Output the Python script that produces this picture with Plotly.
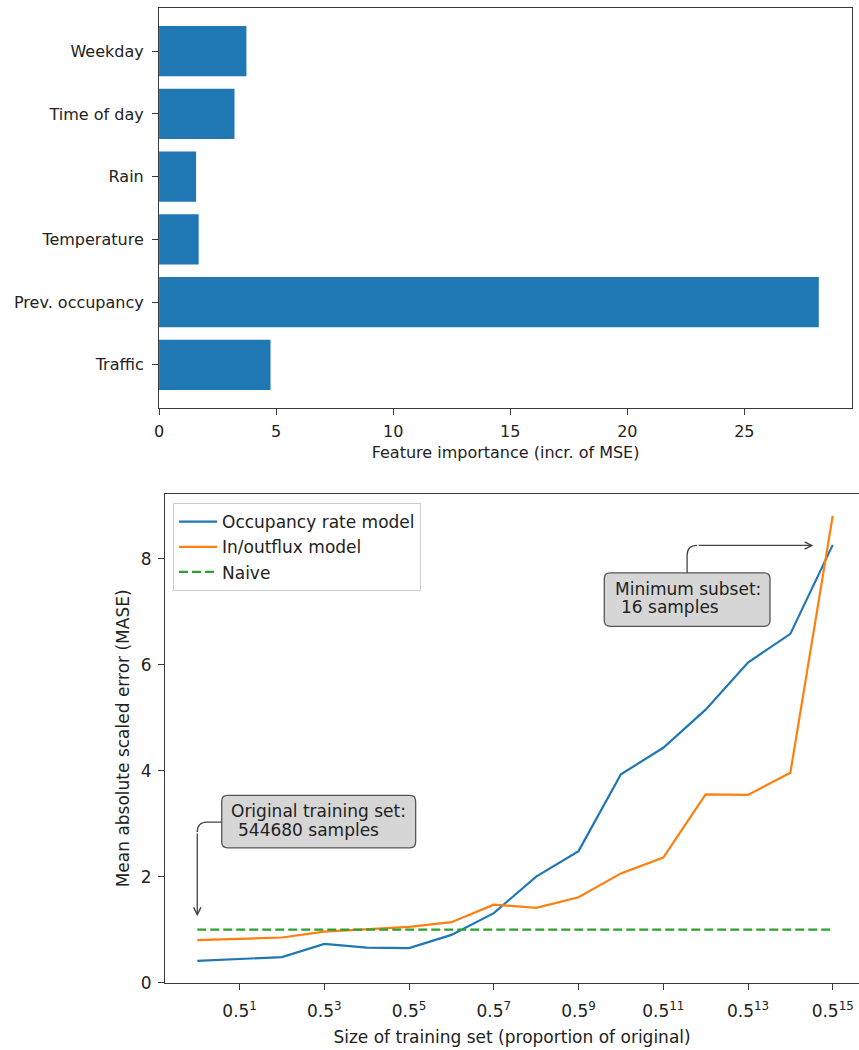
import plotly.graph_objects as go

# ---------------- data ----------------
features = ["Traffic", "Prev. occupancy", "Temperature", "Rain", "Time of day", "Weekday"]
importance = [4.76, 28.18, 1.69, 1.58, 3.22, 3.73]
importance_ticks = [0, 5, 10, 15, 20, 25]

steps = [0, 1, 2, 3, 4, 5, 6, 7, 8, 9, 10, 11, 12, 13, 14, 15]
occupancy_model = [0.41, 0.45, 0.48, 0.73, 0.66, 0.65, 0.90, 1.31, 2.00, 2.48, 3.93, 4.43, 5.15, 6.04, 6.58, 8.26]
flux_model = [0.80, 0.82, 0.85, 0.96, 1.01, 1.05, 1.14, 1.47, 1.41, 1.61, 2.06, 2.36, 3.55, 3.54, 3.96, 8.81]
naive = [1.0, 1.0, 1.0, 1.0, 1.0, 1.0, 1.0, 1.0, 1.0, 1.0, 1.0, 1.0, 1.0, 1.0, 1.0, 1.0]
mase_ticks = [0, 2, 4, 6, 8]
size_tickvals = [1, 3, 5, 7, 9, 11, 13, 15]
size_ticktext = ["0.5<sup>%d</sup>" % n for n in size_tickvals]

W, H = 859, 1050
FONT = "DejaVu Sans"
TXT = "#222222"
SPINE = "#3a3a3a"

fig = go.Figure()

fig.add_trace(go.Bar(
    x=importance, y=features, orientation="h", width=0.8,
    marker=dict(color="#1f77b4", line=dict(width=0)),
    xaxis="x", yaxis="y", showlegend=False,
))

fig.add_trace(go.Scatter(x=steps, y=occupancy_model, mode="lines", name="Occupancy rate model",
                         line=dict(color="#1f77b4", width=2.2), xaxis="x2", yaxis="y2"))
fig.add_trace(go.Scatter(x=steps, y=flux_model, mode="lines", name="In/outflux model",
                         line=dict(color="#ff7f0e", width=2.2), xaxis="x2", yaxis="y2"))
fig.add_trace(go.Scatter(x=steps, y=naive, mode="lines", name="Naive",
                         line=dict(color="#2ca02c", width=2.2, dash="9px,4px"), xaxis="x2", yaxis="y2"))

axis_common = dict(showgrid=False, zeroline=False, showline=True, linecolor=SPINE, linewidth=1.3,
                   ticks="outside", ticklen=6, tickwidth=1.2, tickcolor=SPINE)

fig.update_layout(
    width=W, height=H,
    margin=dict(l=0, r=0, t=0, b=0),
    paper_bgcolor="white", plot_bgcolor="white",
    font=dict(family=FONT, color=TXT, size=16),
    xaxis=dict(domain=[155 / W, 852 / W], range=[0, 29.6], anchor="y", mirror=True,
               tickvals=importance_ticks, tickfont=dict(size=16), ticklabelstandoff=3,
               title=dict(text="Feature importance (incr. of MSE)", font=dict(size=16), standoff=6),
               **axis_common),
    yaxis=dict(domain=[1 - 412 / H, 1 - 8 / H], range=[-0.69, 5.69], anchor="x", mirror=True,
               type="category", categoryorder="array", categoryarray=features,
               tickfont=dict(size=16), ticklabelstandoff=5, **axis_common),
    xaxis2=dict(domain=[161 / W, 1.0], range=[-0.76, 15.62], anchor="y2", mirror=True,
                tickvals=size_tickvals, ticktext=size_ticktext, tickfont=dict(size=17),
                ticklabelstandoff=7,
                title=dict(text="Size of training set (proportion of original)", font=dict(size=17), standoff=10),
                **axis_common),
    yaxis2=dict(domain=[1 - 992 / H, 1 - 499 / H], range=[0, 9.215], anchor="x2",
                tickvals=mase_ticks, tickfont=dict(size=17), ticklabelstandoff=3,
                title=dict(text="Mean absolute scaled error (MASE)", font=dict(size=17), standoff=6),
                **axis_common),
    legend=dict(x=169 / W, y=1 - 508 / H, xanchor="left", yanchor="top",
                bgcolor="rgba(255,255,255,0.8)", bordercolor="#cccccc", borderwidth=1,
                font=dict(size=17, color=TXT), tracegroupgap=0, itemwidth=38),
)


def rounded_box(x0, x1, y0, y1, rx, ry):
    return (f"M {x0 + rx},{y0} L {x1 - rx},{y0} Q {x1},{y0} {x1},{y0 + ry} "
            f"L {x1},{y1 - ry} Q {x1},{y1} {x1 - rx},{y1} "
            f"L {x0 + rx},{y1} Q {x0},{y1} {x0},{y1 - ry} "
            f"L {x0},{y0 + ry} Q {x0},{y0} {x0 + rx},{y0} Z")


RX, RY = 0.14, 0.11
# text boxes
fig.add_shape(type="path", xref="x2", yref="y2", layer="above",
              path=rounded_box(0.577, 5.155, 2.542, 3.533, RX, RY),
              fillcolor="#d6d6d6", line=dict(color="#555555", width=1.3))
fig.add_shape(type="path", xref="x2", yref="y2", layer="above",
              path=rounded_box(9.608, 13.519, 6.723, 7.733, RX, RY),
              fillcolor="#d6d6d6", line=dict(color="#555555", width=1.3))

# curved connectors
fig.add_shape(type="path", xref="x2", yref="y2", layer="above",
              path="M 0.577,3.028 L 0.235,3.028 Q 0,3.028 0,2.841",
              line=dict(color="#444444", width=1.3))
fig.add_shape(type="path", xref="x2", yref="y2", layer="above",
              path="M 11.563,7.733 L 11.563,8.062 Q 11.563,8.249 11.798,8.249",
              line=dict(color="#444444", width=1.3))

# arrow heads
fig.add_annotation(x=0, y=1.252, ax=0, ay=2.841, xref="x2", yref="y2", axref="x2", ayref="y2",
                   text="", showarrow=True, arrowhead=5, arrowsize=1.1, arrowwidth=1.3,
                   arrowcolor="#444444", standoff=0, startstandoff=0)
fig.add_annotation(x=14.545, y=8.249, ax=11.798, ay=8.249, xref="x2", yref="y2", axref="x2", ayref="y2",
                   text="", showarrow=True, arrowhead=5, arrowsize=1.1, arrowwidth=1.3,
                   arrowcolor="#444444", standoff=0, startstandoff=0)

# annotation texts
ann_font = dict(family=FONT, size=17, color=TXT)
for txt, x, y in [("Original training set:", 0.765, 3.234), ("544680 samples", 0.937, 2.873),
                  ("Minimum subset:", 9.843, 7.421), ("16 samples", 9.967, 7.079)]:
    fig.add_annotation(x=x, y=y, xref="x2", yref="y2", text=txt, showarrow=False,
                       xanchor="left", yanchor="middle", font=ann_font, borderpad=0)

fig.write_html("out.html", config={"displayModeBar": False},
               post_script="document.body.style.margin='0';")
